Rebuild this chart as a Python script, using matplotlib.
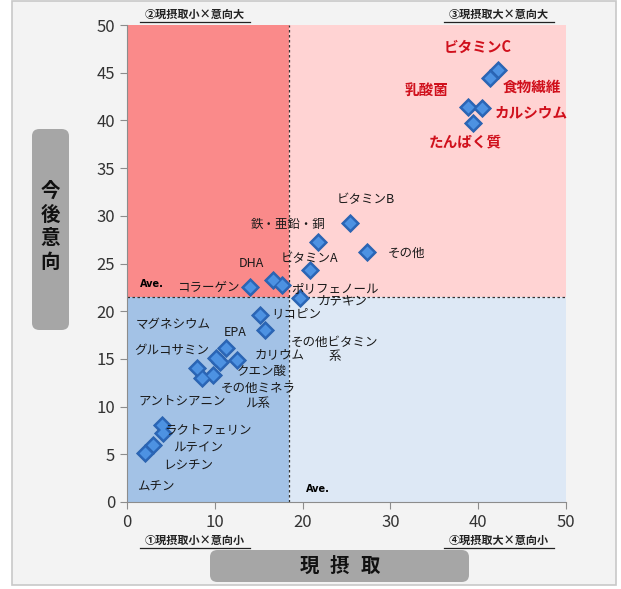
import matplotlib
matplotlib.use("Agg")
import matplotlib.pyplot as plt
from matplotlib.patches import FancyBboxPatch, Rectangle
from matplotlib.lines import Line2D

plt.rcParams['font.family'] = ['Noto Sans CJK JP', 'DejaVu Sans']

# 現摂取 (x) と 今後意向 (y)
names = ['ビタミンC', '食物繊維', '乳酸菌', 'カルシウム', 'たんぱく質',
         'ビタミンB', '鉄・亜鉛・銅', 'その他', 'ビタミンA', 'DHA',
         'コラーゲン', 'ポリフェノール', 'カテキン', 'リコピン', 'その他ビタミン\n系',
         'EPA', 'カリウム', 'クエン酸', 'その他ミネラ\nル系', 'マグネシウム',
         'グルコサミン', 'アントシアニン', 'ラクトフェリン', 'ルテイン', 'レシチン', 'ムチン']
current = [42.3, 41.3, 38.8, 40.4, 39.4,
           25.4, 21.8, 27.3, 20.8, 16.6,
           14.0, 17.7, 19.7, 15.1, 15.7,
           11.3, 12.5, 10.6, 9.8, 8.0,
           10.1, 8.5, 4.0, 4.1, 3.0, 2.1]
intent = [45.3, 44.4, 41.4, 41.3, 39.7,
          29.2, 27.3, 26.2, 24.3, 23.3,
          22.5, 22.7, 21.4, 19.6, 18.0,
          16.1, 14.9, 14.7, 13.3, 14.0,
          15.1, 13.0, 8.1, 7.2, 6.0, 5.1]
ave_x = 18.45
ave_y = 21.5
quad_labels = ['②現摂取小×意向大', '③現摂取大×意向大', '①現摂取小×意向小', '④現摂取大×意向小']

# ラベルのずらし (pixel)
offsets = [(-21, 23), (42, -8), (-41, 17), (50, -4), (-8, -18),
           (16, 24), (-30, 17), (40, -1), (0, 12), (-21, 16),
           (-42, 0), (53, -3), (43, -3), (37, 1), (70, -19),
           (9, 16), (43, 5), (42, -10), (45, -21), (-24, 44),
           (-44, 7), (-19, -23), (46, -5), (35, -15), (35, -21), (10, -34)]
n_red = 5

fig = plt.figure(figsize=(6.21, 5.89), dpi=100)
fig.patch.set_facecolor('white')
fig.add_artist(Rectangle((12 / 621, 4 / 589), 604 / 621, 584 / 589, transform=fig.transFigure,
                         facecolor='#f3f3f3', edgecolor='#c8c8c8', lw=1.2, zorder=-10))

ax = fig.add_axes([127 / 621, 87 / 589, 439 / 621, 477 / 589])
ax.set_xlim(0, 50)
ax.set_ylim(0, 50)
ax.set_facecolor('none')

# 象限の塗り分け
ax.add_patch(Rectangle((0, ave_y), ave_x, 50 - ave_y, facecolor='#fa8a8a', lw=0, zorder=0))
ax.add_patch(Rectangle((ave_x, ave_y), 50 - ave_x, 50 - ave_y, facecolor='#ffd3d3', lw=0, zorder=0))
ax.add_patch(Rectangle((0, 0), ave_x, ave_y, facecolor='#a3c2e6', lw=0, zorder=0))
ax.add_patch(Rectangle((ave_x, 0), 50 - ave_x, ave_y, facecolor='#dde8f5', lw=0, zorder=0))
ax.axvline(ave_x, color='#333333', lw=0.9, ls=(0, (2, 2)), zorder=1)
ax.axhline(ave_y, color='#333333', lw=0.9, ls=(0, (2, 2)), zorder=1)
ax.text(1.5, ave_y + 1.0, 'Ave.', fontsize=7, fontweight='bold', family='DejaVu Sans', zorder=3)
ax.text(ave_x + 1.9, 1.0, 'Ave.', fontsize=7, fontweight='bold', family='DejaVu Sans', zorder=3)

# マーカー (立体風に明るい面を重ねる)
ax.plot(current, intent, 'D', ms=9.5, mfc='#2a66b8', mec='#2a62ad', mew=0.6, zorder=4)
ax.plot(current, intent, 'D', ms=6.5, mfc='#4d92e2', mec='none', zorder=5)

for i, (nm, x, y) in enumerate(zip(names, current, intent)):
    red = i < n_red
    ax.annotate(nm, (x, y), xytext=offsets[i], textcoords='offset pixels',
                ha='center', va='center', fontsize=10.5 if red else 9,
                fontweight='bold' if red else 'normal',
                color='#d0101c' if red else '#1a1a1a', linespacing=1.15, zorder=6)

for s in ['top', 'right']:
    ax.spines[s].set_visible(False)
for s in ['left', 'bottom']:
    ax.spines[s].set_color('#8c8c8c')
ax.set_xticks(range(0, 51, 10))
ax.set_yticks(range(0, 51, 5))
ax.tick_params(colors='#8c8c8c', labelcolor='#333333', labelsize=12, length=5)

# 象限名
qpos = [(195, 14), (499, 14), (195, 540), (499, 540)]
for t, (px, py) in zip(quad_labels, qpos):
    fx, fy = px / 621, 1 - py / 589
    fig.text(fx, fy, t, ha='center', va='center', fontsize=8, fontweight='bold', color='#222222')
    fig.add_artist(Line2D([fx - 55 / 621, fx + 55 / 621], [fy - 7.5 / 589, fy - 7.5 / 589],
                          transform=fig.transFigure, color='#222222', lw=0.9))

# 軸ラベルのボックス
fig.add_artist(FancyBboxPatch((32 / 621, 1 - 330 / 589), 37 / 621, 201 / 589,
                              boxstyle='round,pad=0,rounding_size=0.012', transform=fig.transFigure,
                              facecolor='#a6a6a6', edgecolor='none'))
fig.text(50 / 621, 1 - 227 / 589, '今\n後\n意\n向', ha='center', va='center', fontsize=14,
         fontweight='bold', color='#111111', linespacing=1.3)
fig.add_artist(FancyBboxPatch((210 / 621, 1 - 582 / 589), 259 / 621, 32 / 589,
                              boxstyle='round,pad=0,rounding_size=0.012', transform=fig.transFigure,
                              facecolor='#a6a6a6', edgecolor='none'))
for ch, px in zip('現摂取', (309, 339, 370)):
    fig.text(px / 621, 1 - 566 / 589, ch, ha='center', va='center', fontsize=14,
             fontweight='bold', color='#111111')

fig.savefig('out.png', dpi=100)
